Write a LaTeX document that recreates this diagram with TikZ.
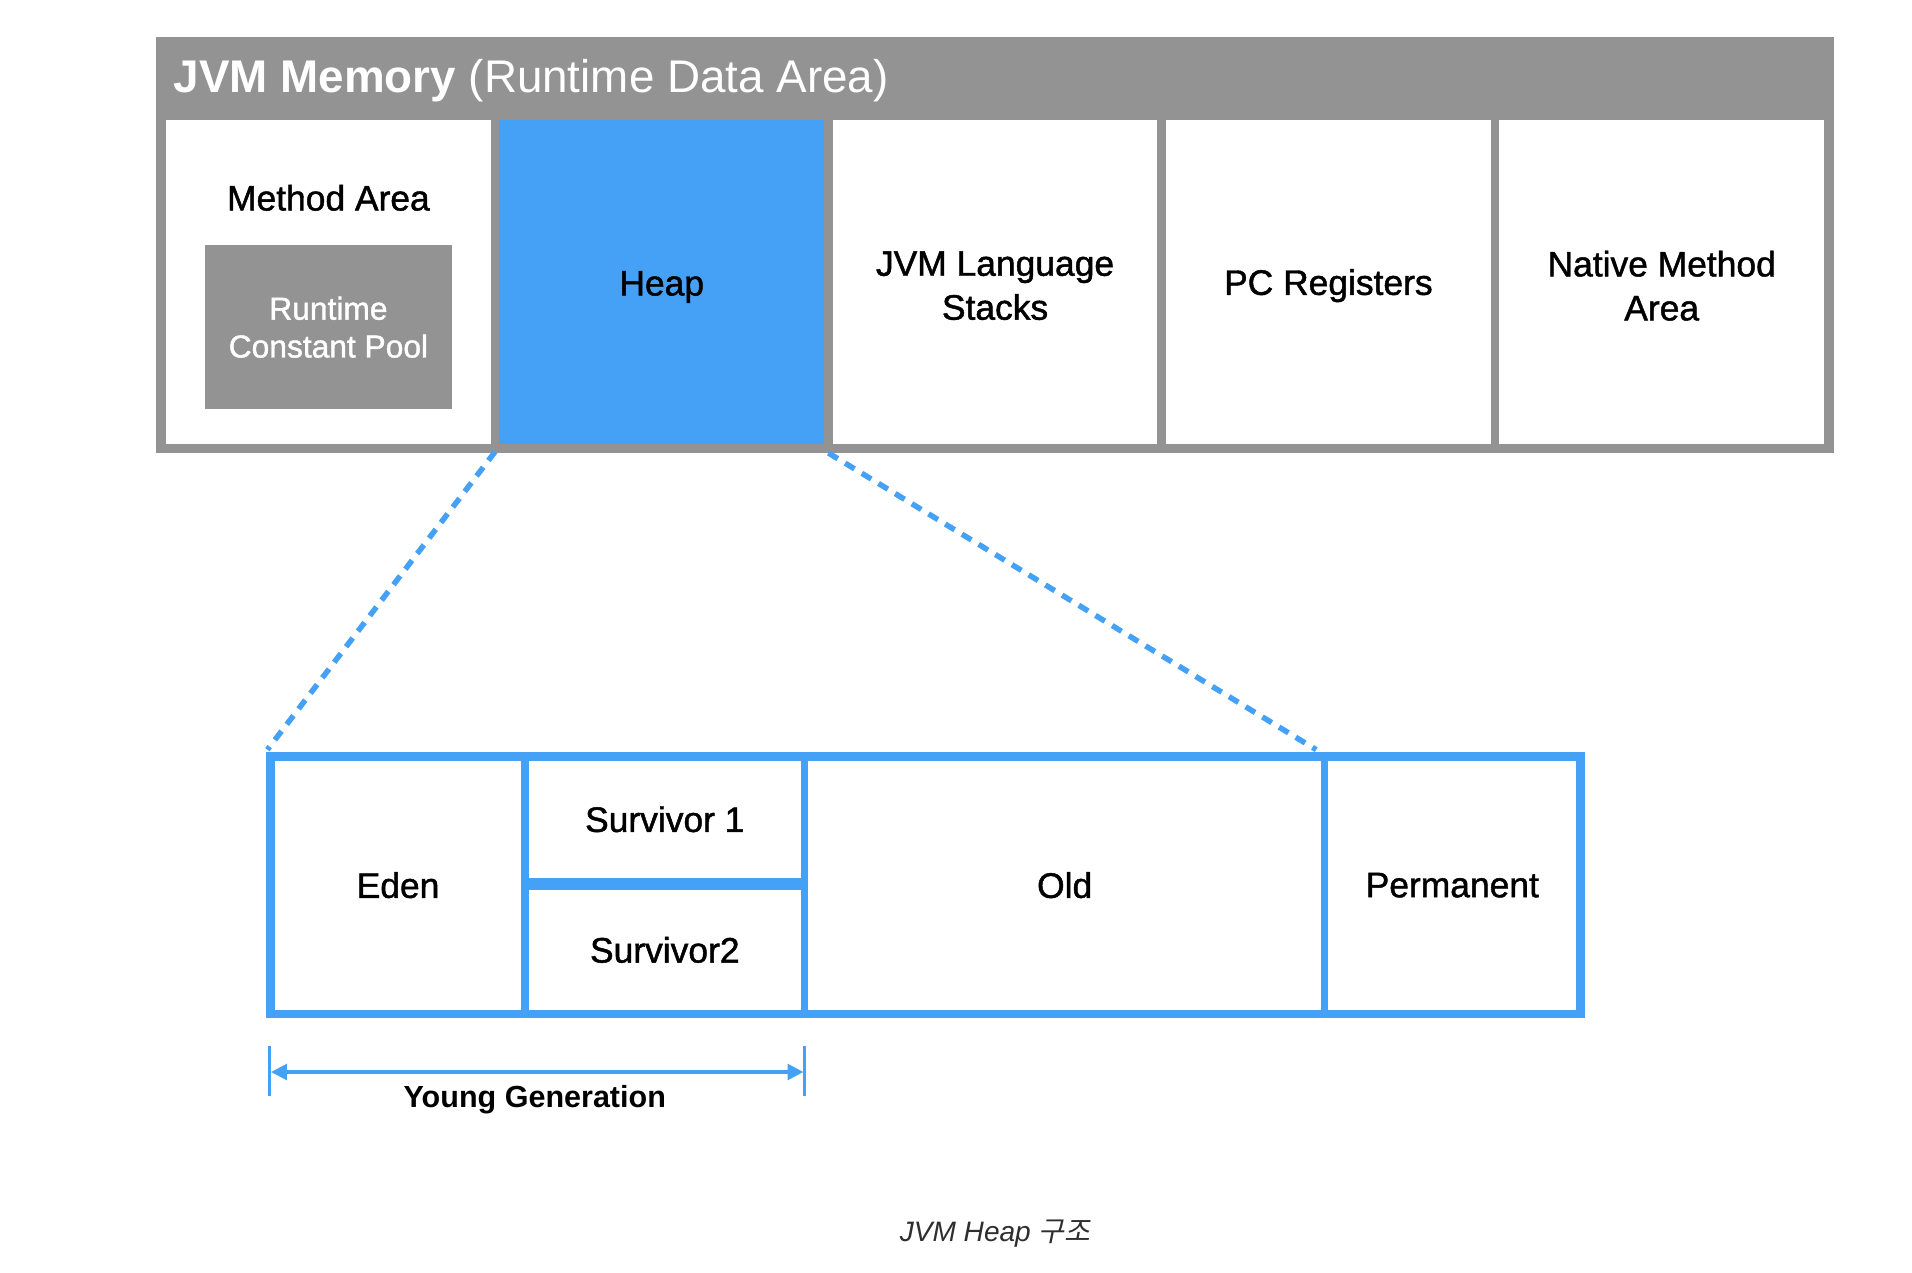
\documentclass[tikz,border=0pt]{standalone}
\usepackage{fontspec}
\setmainfont{Liberation Sans}
\newfontfamily\medfont[FakeBold=1.3]{Liberation Sans}
\newfontfamily\krfont[FakeSlant=0.2]{Noto Sans CJK KR}
\usetikzlibrary{arrows.meta,calc}
\definecolor{jgray}{HTML}{939393}
\definecolor{jblue}{HTML}{45A1F5}
\definecolor{capgray}{HTML}{2E2E2E}
\begin{document}
\begin{tikzpicture}[x=1pt,y=-1pt,
  box/.style={inner sep=0pt, outer sep=0pt, anchor=north west},
  cell/.style={box, fill=white, align=center, text=black, font=\medfont\fontsize{29}{36}\selectfont},
  celltext/.style={inner sep=0pt, align=center, text=black, font=\medfont\fontsize{29}{36}\selectfont},
  zoomline/.style={jblue, line width=4.5pt, dash pattern=on 9pt off 7pt},
  dimline/.style={jblue, line width=2.5pt}
]
\useasboundingbox (0,0) rectangle (1566,1042);

% JVM memory frame
\node[box, fill=jgray, minimum width=1374pt, minimum height=341pt] (mem) at (128,30) {};
\node[inner sep=0pt, anchor=west, text=white, font=\fontsize{37.5}{44}\selectfont] (title) at (142,66)
  {\textbf{JVM Memory} (Runtime Data Area)};

% columns
\node[cell, minimum width=266pt, minimum height=266pt] (method) at (136,98) {};
\node[celltext] (methodlbl) at (269,162) {Method Area};
\node[box, fill=jgray, minimum width=202pt, minimum height=134pt] (rcp) at (168,201) {};
\node[inner sep=0pt, align=center, text=white, font=\medfont\fontsize{26}{31}\selectfont] (rcplbl) at (269,268)
  {Runtime\\Constant Pool};
\node[cell, fill=jblue, minimum width=266pt, minimum height=266pt] (heap) at (409,98) {};
\node[celltext] (heaplbl) at ($(heap.center)+(0,4)$) {Heap};
\node[cell, minimum width=266pt, minimum height=266pt] (stacks) at (682,98) {};
\node[celltext] (stackslbl) at ($(stacks.center)+(0,3)$) {JVM Language\\Stacks};
\node[cell, minimum width=266pt, minimum height=266pt] (pc) at (955,98) {};
\node[celltext] (pclbl) at ($(pc.center)+(0,3)$) {PC Registers};
\node[cell, minimum width=266pt, minimum height=266pt] (native) at (1228,98) {};
\node[celltext] (nativelbl) at ($(native.center)+(0,3)$) {Native Method\\Area};

% heap detail
\node[box, fill=jblue, minimum width=1080pt, minimum height=218pt] (heapbox) at (218,616) {};
\node[cell, minimum width=202pt, minimum height=204pt] (eden) at (225,623) {Eden};
\node[cell, minimum width=223pt, minimum height=96pt] (surv1) at (433,623) {Survivor 1};
\node[cell, minimum width=223pt, minimum height=98pt] (surv2) at (433,729) {Survivor2};
\node[cell, minimum width=420pt, minimum height=204pt] (old) at (662,623) {Old};
\node[cell, minimum width=203pt, minimum height=204pt] (perm) at (1088,623) {Permanent};

% zoom lines
\coordinate (zl1) at ($(method.south east)!0.5!(heap.south west)+(0,6)$);
\coordinate (zl2) at ($(heapbox.north west)+(1,-2)$);
\coordinate (zr1) at ($(heap.south east)!0.5!(stacks.south west)+(0,7)$);
\coordinate (zr2) at ($(old.north east)!0.5!(perm.north west)+(-7,-9)$);
\draw[zoomline] (zl1) -- (zl2);
\draw[zoomline] (zr1) -- (zr2);

% young generation dimension
\coordinate (yl) at ($(eden.south west)+(-4,51)$);
\coordinate (yr) at ($(surv2.south east)+(3,51)$);
\draw[dimline] ($(yl)+(0,-21)$) -- ($(yl)+(0,20)$);
\draw[dimline] ($(yr)+(0,-21)$) -- ($(yr)+(0,20)$);
\draw[dimline, {Triangle[length=13pt,width=13pt]}-{Triangle[length=13pt,width=13pt]}]
  ($(yl)+(1,0)$) -- ($(yr)+(-1,0)$);
\node[inner sep=0pt, font=\bfseries\fontsize{25}{30}\selectfont] (yglbl) at (438,901) {Young Generation};

% caption
\node[inner sep=0pt, text=capgray, font=\itshape\fontsize{23}{28}\selectfont] (caption) at (815,1010)
  {JVM Heap {\krfont 구조}};
\end{tikzpicture}
\end{document}
